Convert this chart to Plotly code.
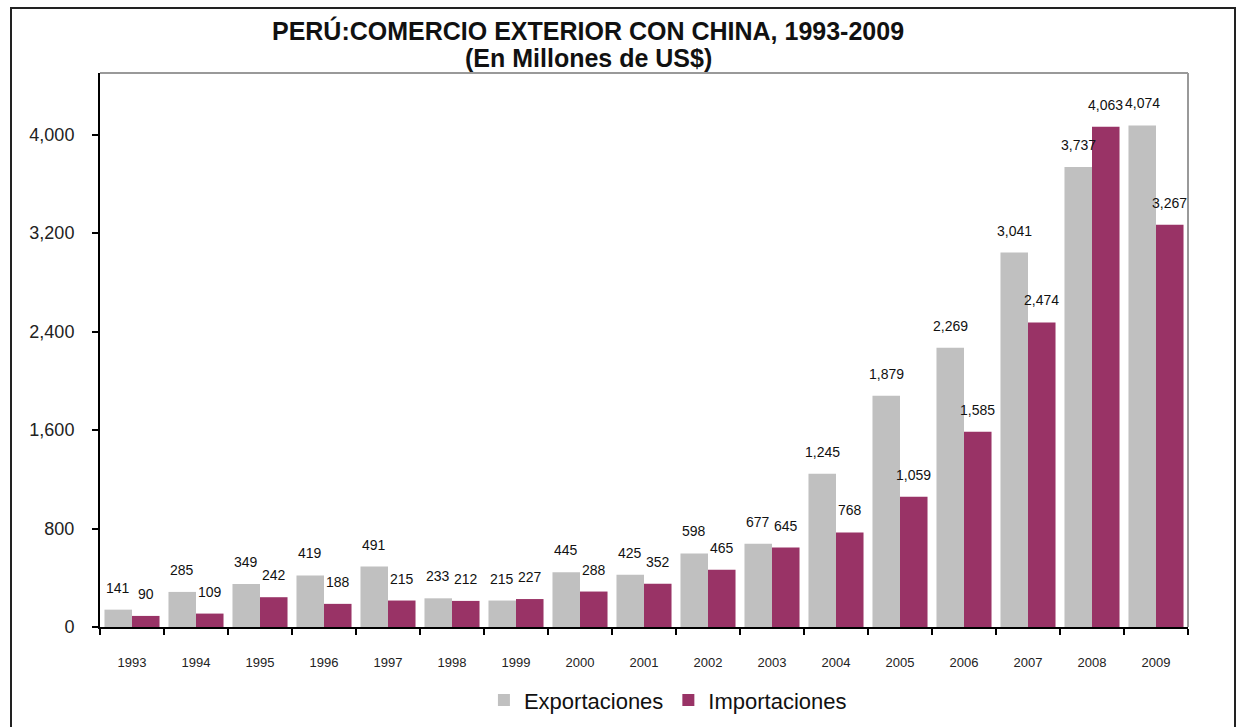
import plotly.graph_objects as go

years = ["1993", "1994", "1995", "1996", "1997", "1998", "1999", "2000", "2001",
         "2002", "2003", "2004", "2005", "2006", "2007", "2008", "2009"]
exportaciones = [141, 285, 349, 419, 491, 233, 215, 445, 425, 598, 677, 1245,
                 1879, 2269, 3041, 3737, 4074]
importaciones = [90, 109, 242, 188, 215, 212, 227, 288, 352, 465, 645, 768,
                 1059, 1585, 2474, 4063, 3267]
y_ticks = [0, 800, 1600, 2400, 3200, 4000]
title_line1 = "PERÚ:COMERCIO EXTERIOR CON CHINA, 1993-2009"
title_line2 = "(En Millones de US$)"

GREY = "#C0C0C0"
PURPLE = "#993366"

fig = go.Figure()
fig.add_trace(go.Bar(name="Exportaciones", x=years, y=exportaciones,
                     marker=dict(color=GREY, line=dict(width=0))))
fig.add_trace(go.Bar(name="Importaciones", x=years, y=importaciones,
                     marker=dict(color=PURPLE, line=dict(width=0))))

label_font = dict(family="Arial, Liberation Sans, sans-serif", size=14, color="#111")
half = 13.8
for i, v in enumerate(exportaciones):
    fig.add_annotation(x=i, y=v, text=f"{v:,}", showarrow=False, xshift=-half,
                       yshift=12, yanchor="bottom", font=label_font)
for i, v in enumerate(importaciones):
    fig.add_annotation(x=i, y=v, text=f"{v:,}", showarrow=False, xshift=half,
                       yshift=12, yanchor="bottom", font=label_font)

title_font = dict(family="Arial, Liberation Sans, sans-serif", size=25, color="#111")
# subtitle line
fig.add_annotation(xref="paper", yref="paper", x=(588 - 100) / 1088, y=(627 - 58) / 554,
                   text=f"<b>{title_line2}</b>", showarrow=False, xanchor="center",
                   yanchor="middle", font=title_font)

# outer frame
fig.add_shape(type="rect", xref="paper", yref="paper",
              x0=(11 - 100) / 1088, x1=(1235 - 100) / 1088,
              y0=(627 - 760) / 554, y1=(627 - 8) / 554,
              line=dict(color="#222", width=2), layer="below")
# plot area border (top & right)
fig.add_shape(type="line", xref="paper", yref="paper", x0=0, x1=1, y0=1, y1=1,
              line=dict(color="#999", width=2))
fig.add_shape(type="line", xref="paper", yref="paper", x0=1, x1=1, y0=0, y1=1,
              line=dict(color="#999", width=2))

fig.update_layout(
    width=1238, height=727,
    margin=dict(l=100, r=50, t=73, b=100, autoexpand=False),
    paper_bgcolor="white", plot_bgcolor="white",
    barmode="group", bargap=0.14, bargroupgap=0,
    title=dict(text=f"<b>{title_line1}</b>",
               x=588 / 1238, xanchor="center", y=1 - 31 / 727, yanchor="middle",
               font=title_font),
    font=dict(family="Arial, Liberation Sans, sans-serif", color="#222"),
    showlegend=True,
    legend=dict(orientation="h", x=0.522, xanchor="center", y=-0.132, yanchor="middle",
                font=dict(size=22, color="#111")),
    xaxis=dict(type="category", range=[-0.5, len(years) - 0.5], showline=True,
               linecolor="black", linewidth=2,
               ticks="outside", tickson="boundaries", ticklen=6, tickcolor="black",
               tickwidth=2, tickfont=dict(size=13, color="#222"), showgrid=False,
               tickangle=0, ticklabelstandoff=22),
    yaxis=dict(range=[0, 4500], tickvals=y_ticks, tickformat=",", showline=True,
               linecolor="black", linewidth=2, ticks="outside", ticklen=6,
               tickcolor="black", tickwidth=2, showgrid=False, zeroline=False,
               tickfont=dict(size=18, color="#222"), ticklabelstandoff=14),
)

fig.write_html("out.html", config={"displayModeBar": False},
               post_script="document.body.style.margin='0px';")
